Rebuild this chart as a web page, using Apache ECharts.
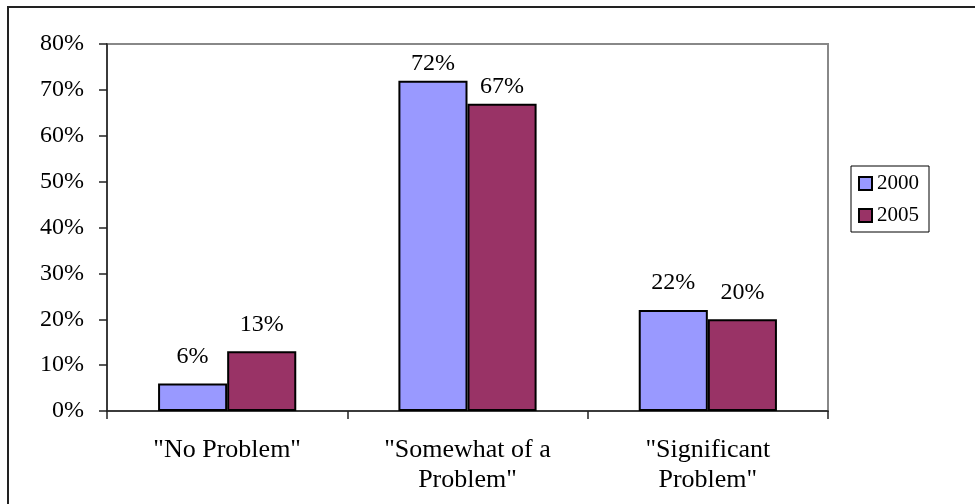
<!DOCTYPE html>
<html>
<head>
<meta charset="utf-8">
<script src="https://cdn.jsdelivr.net/npm/echarts@6/dist/echarts.min.js"></script>
<style>
  html, body { margin: 0; padding: 0; background: #fff; }
  #chart { width: 975px; height: 504px; }
</style>
</head>
<body>
<div id="chart"></div>
<script>
// Survey responses, share of respondents per answer
var categories = ['"No Problem"', '"Somewhat of a\nProblem"', '"Significant\nProblem"'];
var seriesNames = ['2000', '2005'];
var values2000 = [6, 72, 22];
var values2005 = [13, 67, 20];
var yTicks = [0, 10, 20, 30, 40, 50, 60, 70, 80];

var FONT = '"Liberation Serif", "Times New Roman", serif';
var colors = ['#9999FF', '#993366'];

var chart = echarts.init(document.getElementById('chart'));

// value labels sit a little higher above the shorter bars
function withLabelGap(values) {
  return values.map(function (v) {
    return { value: v, label: { distance: v > 50 ? 5 : 15 } };
  });
}

function barSeries(name, data, color) {
  return {
    name: name,
    type: 'bar',
    data: withLabelGap(data),
    barWidth: '28.75%',
    barGap: '0%',
    itemStyle: { color: color, borderColor: '#000', borderWidth: 2 },
    label: {
      show: true,
      position: 'top',
      formatter: '{c}%',
      color: '#000',
      fontFamily: FONT,
      fontSize: 24
    }
  };
}

chart.setOption({
  animation: false,
  backgroundColor: '#fff',
  color: colors,
  graphic: [{
    type: 'rect',
    shape: { x: 8, y: 7, width: 1000, height: 600 },
    style: { fill: 'none', stroke: '#222', lineWidth: 2 },
    z: -10
  }],
  grid: {
    left: 107, right: 147, top: 44, bottom: 93,
    show: true, borderColor: '#888', borderWidth: 2, backgroundColor: 'transparent'
  },
  legend: {
    orient: 'vertical',
    left: 851, top: 166,
    padding: [7, 10, 6, 7],
    itemWidth: 13, itemHeight: 13, itemGap: 11,
    backgroundColor: '#fff',
    borderColor: '#000', borderWidth: 1,
    icon: 'rect',
    itemStyle: { borderColor: '#000', borderWidth: 2 },
    textStyle: { fontFamily: FONT, fontSize: 21, color: '#000' },
    data: seriesNames
  },
  xAxis: {
    type: 'category',
    data: categories,
    boundaryGap: true,
    axisLine: { lineStyle: { color: '#222', width: 1.5 } },
    axisTick: { show: true, length: 8, lineStyle: { color: '#222', width: 1.5 } },
    axisLabel: {
      margin: 24,
      fontFamily: FONT, fontSize: 26, color: '#000', lineHeight: 30
    }
  },
  yAxis: {
    type: 'value',
    min: yTicks[0],
    max: yTicks[yTicks.length - 1],
    interval: 10,
    splitLine: { show: false },
    axisLine: { show: true, lineStyle: { color: '#222', width: 1.5 } },
    axisTick: { show: true, length: 8, lineStyle: { color: '#222', width: 1.5 } },
    axisLabel: {
      margin: 23,
      formatter: '{value}%',
      fontFamily: FONT, fontSize: 24, color: '#000'
    }
  },
  series: [
    barSeries(seriesNames[0], values2000, colors[0]),
    barSeries(seriesNames[1], values2005, colors[1])
  ]
});
</script>
</body>
</html>
